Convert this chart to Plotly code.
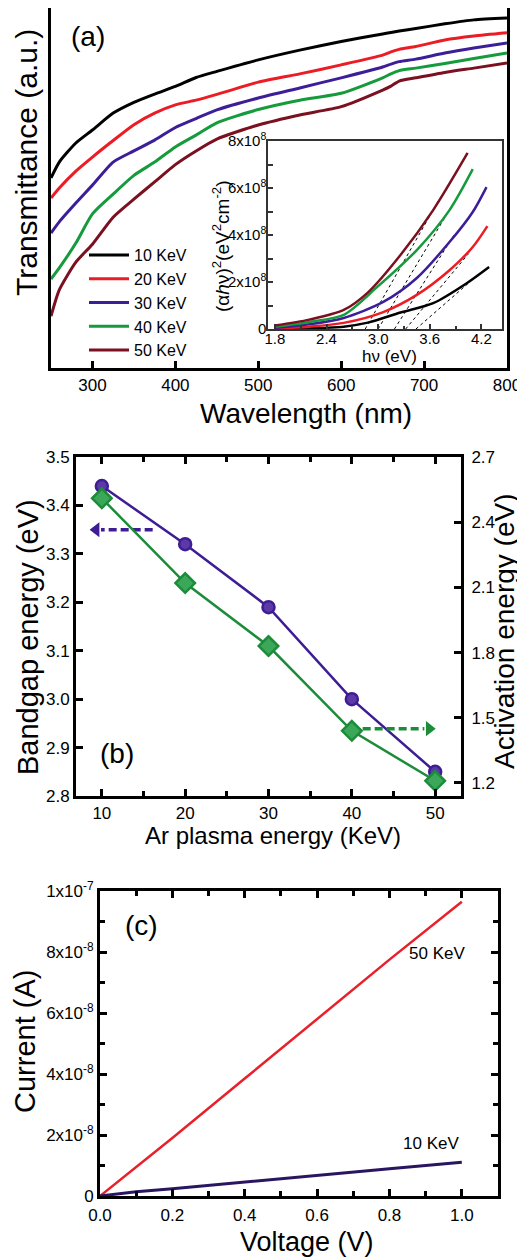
import plotly.graph_objects as go

# The page body has an 8 px margin, so the figure is sized to fill the rest of the 525x1258 window.
PAGE_OFFSET = 8
W, H = 525 - PAGE_OFFSET, 1258 - PAGE_OFFSET
FONT = "Liberation Sans, Arial, sans-serif"

# ---------------- Panel (a): transmittance ----------------
wavelength_nm = [250, 260, 280, 300, 325, 350, 375, 400, 425, 450, 500, 550, 600, 650, 660, 670, 690, 725, 760, 800]
T_10keV = [0.528, 0.572, 0.625, 0.661, 0.708, 0.738, 0.761, 0.782, 0.807, 0.824, 0.856, 0.883, 0.907, 0.928, 0.932, 0.936, 0.943, 0.956, 0.967, 0.972]
T_20keV = [0.472, 0.500, 0.547, 0.586, 0.632, 0.676, 0.708, 0.731, 0.744, 0.760, 0.794, 0.817, 0.842, 0.869, 0.878, 0.885, 0.893, 0.911, 0.922, 0.931]
T_30keV = [0.375, 0.406, 0.458, 0.508, 0.572, 0.603, 0.633, 0.668, 0.693, 0.717, 0.750, 0.778, 0.806, 0.836, 0.844, 0.851, 0.858, 0.875, 0.889, 0.903]
T_40keV = [0.247, 0.278, 0.347, 0.428, 0.483, 0.535, 0.572, 0.614, 0.647, 0.681, 0.718, 0.744, 0.763, 0.806, 0.817, 0.826, 0.833, 0.846, 0.860, 0.875]
T_50keV = [0.144, 0.217, 0.294, 0.344, 0.419, 0.469, 0.517, 0.565, 0.603, 0.636, 0.675, 0.703, 0.726, 0.772, 0.783, 0.797, 0.806, 0.821, 0.833, 0.847]
series_names = ["10 KeV", "20 KeV", "30 KeV", "40 KeV", "50 KeV"]
series_colors = ["#000000", "#ec1c24", "#3c1e98", "#159a3c", "#7a1020"]

# Inset: Tauc plot
hv_10 = [1.80, 2.20, 2.60, 2.88, 3.26, 3.64, 4.03, 4.29]
ahv2_10 = [0.0, 0.03e8, 0.10e8, 0.27e8, 0.70e8, 1.10e8, 1.95e8, 2.64e8]
hv_20 = [1.80, 2.20, 2.60, 3.06, 3.45, 3.83, 4.10, 4.27]
ahv2_20 = [0.02e8, 0.10e8, 0.26e8, 0.72e8, 1.45e8, 2.50e8, 3.49e8, 4.38e8]
hv_30 = [1.80, 2.20, 2.60, 3.06, 3.45, 3.83, 4.10, 4.26]
ahv2_30 = [0.05e8, 0.20e8, 0.47e8, 1.15e8, 2.17e8, 3.70e8, 4.98e8, 6.04e8]
hv_40 = [1.80, 2.20, 2.60, 2.99, 3.45, 3.83, 4.10]
ahv2_40 = [0.10e8, 0.30e8, 0.60e8, 1.79e8, 3.36e8, 5.06e8, 6.80e8]
hv_50 = [1.80, 2.20, 2.60, 2.88, 3.26, 3.64, 4.04]
ahv2_50 = [0.15e8, 0.40e8, 0.81e8, 1.55e8, 3.15e8, 5.06e8, 7.49e8]
# linear extrapolation (dotted) lines: intercept -> end point
fit_x0 = [3.44, 3.32, 3.19, 3.00, 2.85]
fit_x1 = [4.05, 4.05, 3.90, 3.85, 3.70]
fit_y1 = [1.95e8, 3.20e8, 4.10e8, 5.20e8, 5.45e8]

# ---------------- Panel (b) ----------------
plasma_kev = [10, 20, 30, 40, 50]
bandgap_ev = [3.44, 3.32, 3.19, 3.00, 2.85]
activation_ev = [2.51, 2.12, 1.83, 1.44, 1.21]
arrow_bg_x = [16.1, 8.6]     # tail, tip (left axis)
arrow_bg_y = 3.35
arrow_act_x = [41.3, 50.0]   # tail, tip (right axis)
arrow_act_y = 1.45

# ---------------- Panel (c) ----------------
voltage_10 = [0.0, 0.1, 0.2, 0.4, 0.6, 0.8, 1.0]
current_10 = [0.0, 0.14e-8, 0.24e-8, 0.45e-8, 0.67e-8, 0.89e-8, 1.11e-8]
voltage_50 = [0.0, 0.2, 0.4, 0.6, 0.8, 1.0]
current_50 = [0.0, 1.90e-8, 3.85e-8, 5.80e-8, 7.75e-8, 9.65e-8]


def dx(px):
    return (px - PAGE_OFFSET) / W


def dy(py):
    return 1 - (py - PAGE_OFFSET) / H


fig = go.Figure()

T_all = [T_10keV, T_20keV, T_30keV, T_40keV, T_50keV]
for name, col, T in zip(series_names, series_colors, T_all):
    fig.add_trace(go.Scatter(x=wavelength_nm, y=T, mode="lines", name=name,
                             line=dict(color=col, width=3, shape="spline", smoothing=0.6),
                             xaxis="x", yaxis="y"))

hv_all = [hv_10, hv_20, hv_30, hv_40, hv_50]
ahv_all = [ahv2_10, ahv2_20, ahv2_30, ahv2_40, ahv2_50]
for i in range(5):
    fig.add_trace(go.Scatter(x=[fit_x0[i], fit_x1[i]], y=[0, fit_y1[i]], mode="lines",
                             line=dict(color="black", width=1, dash="dot"), showlegend=False,
                             xaxis="x2", yaxis="y2"))
for col, xs, ys in zip(series_colors, hv_all, ahv_all):
    fig.add_trace(go.Scatter(x=xs, y=ys, mode="lines", showlegend=False,
                             line=dict(color=col, width=2.5, shape="spline", smoothing=0.8),
                             xaxis="x2", yaxis="y2"))

purple_b = "#3e1c93"
green_b = "#1c8c3a"
fig.add_trace(go.Scatter(x=plasma_kev, y=bandgap_ev, mode="lines+markers", showlegend=False,
                         line=dict(color=purple_b, width=2.5),
                         marker=dict(symbol="circle", size=12, color="#5b3aa8",
                                     line=dict(color=purple_b, width=2.5)),
                         xaxis="x3", yaxis="y3"))
fig.add_trace(go.Scatter(x=plasma_kev, y=activation_ev, mode="lines+markers", showlegend=False,
                         line=dict(color=green_b, width=2.5),
                         marker=dict(symbol="diamond", size=15, color="#3aa858",
                                     line=dict(color=green_b, width=2.5)),
                         xaxis="x3", yaxis="y4"))
# dashed arrows
head_len = 1.3
fig.add_trace(go.Scatter(x=[arrow_bg_x[0], arrow_bg_x[1] + head_len], y=[arrow_bg_y, arrow_bg_y],
                         mode="lines", line=dict(color=purple_b, width=3.5, dash="8px,4px"),
                         showlegend=False, xaxis="x3", yaxis="y3"))
fig.add_trace(go.Scatter(x=[arrow_bg_x[1] + head_len * 0.55], y=[arrow_bg_y], mode="markers",
                         marker=dict(symbol="triangle-left", size=13, color=purple_b),
                         showlegend=False, xaxis="x3", yaxis="y3"))
fig.add_trace(go.Scatter(x=[arrow_act_x[0], arrow_act_x[1] - head_len], y=[arrow_act_y, arrow_act_y],
                         mode="lines", line=dict(color=green_b, width=3.5, dash="8px,4px"),
                         showlegend=False, xaxis="x3", yaxis="y4"))
fig.add_trace(go.Scatter(x=[arrow_act_x[1] - head_len * 0.55], y=[arrow_act_y], mode="markers",
                         marker=dict(symbol="triangle-right", size=13, color=green_b),
                         showlegend=False, xaxis="x3", yaxis="y4"))

fig.add_trace(go.Scatter(x=voltage_50, y=current_50, mode="lines", showlegend=False,
                         line=dict(color="#e8202a", width=2.5), xaxis="x4", yaxis="y5"))
fig.add_trace(go.Scatter(x=voltage_10, y=current_10, mode="lines", showlegend=False,
                         line=dict(color="#2a1660", width=3), xaxis="x4", yaxis="y5"))

tf = dict(family=FONT, size=17, color="black")
common = dict(showgrid=False, zeroline=False, showline=True, linecolor="black", linewidth=3,
              ticks="inside", tickwidth=3, ticklen=7, tickcolor="black", tickfont=tf,
              automargin=False)

inset_common = dict(showgrid=False, zeroline=False, showline=True, linecolor="#333333", linewidth=1.5,
                    ticks="inside", tickwidth=1.5, ticklen=5, tickcolor="#333333",
                    tickfont=dict(family=FONT, size=15, color="black"), mirror=True,
                    automargin=False)

fig.update_layout(
    width=W, height=H, autosize=False,
    margin=dict(l=0, r=0, t=0, b=0, pad=0, autoexpand=False),
    paper_bgcolor="white", plot_bgcolor="rgba(0,0,0,0)",
    font=dict(family=FONT, color="black"),
    showlegend=True,
    legend=dict(x=dx(84), y=dy(238), xanchor="left", yanchor="top",
                font=dict(family=FONT, size=16, color="black"),
                bgcolor="rgba(0,0,0,0)", tracegroupgap=0, itemwidth=40),
    xaxis=dict(common, domain=[dx(51), dx(507)], range=[250, 800], anchor="y", mirror=True,
               tickvals=[300, 400, 500, 600, 700, 800], ticklabelstandoff=0),
    yaxis=dict(common, domain=[dy(368), dy(8)], range=[0, 1], anchor="x", mirror=True,
               ticks="", showticklabels=False),
    xaxis2=dict(inset_common, domain=[dx(268), dx(502)], range=[1.72, 4.44], anchor="y2",
                tickvals=[1.8, 2.4, 3.0, 3.6, 4.2], ticktext=["1.8", "2.4", "3.0", "3.6", "4.2"],
                ticklabelstandoff=-5,
                minor=dict(tick0=1.8, dtick=0.3, ticks="inside", ticklen=3, tickcolor="#333333")),
    yaxis2=dict(inset_common, domain=[dy(329), dy(141)], range=[0, 8e8], anchor="x2",
                tickvals=[0, 2e8, 4e8, 6e8, 8e8], ticklabelstandoff=-3,
                ticktext=["0", "2x10<sup>8</sup>", "4x10<sup>8</sup>", "6x10<sup>8</sup>", "8x10<sup>8</sup>"],
                minor=dict(dtick=1e8, ticks="inside", ticklen=5, tickcolor="#333333")),
    xaxis3=dict(common, domain=[dx(76), dx(461)], range=[6.9, 53.1], anchor="y3", mirror="ticks",
                tickvals=[10, 20, 30, 40, 50],
                minor=dict(tick0=5, dtick=5, ticks="inside", ticklen=5, tickwidth=3, tickcolor="black")),
    yaxis3=dict(common, domain=[dy(796), dy(457)], range=[2.8, 3.5], anchor="x3",
                tickvals=[2.8, 2.9, 3.0, 3.1, 3.2, 3.3, 3.4, 3.5],
                ticktext=["2.8", "2.9", "3.0", "3.1", "3.2", "3.3", "3.4", "3.5"]),
    yaxis4=dict(common, overlaying="y3", side="right", range=[1.14, 2.7], anchor="x3",
                tickvals=[1.2, 1.5, 1.8, 2.1, 2.4, 2.7],
                ticktext=["1.2", "1.5", "1.8", "2.1", "2.4", "2.7"], ticklabelstandoff=4),
    xaxis4=dict(common, domain=[dx(100), dx(498)], range=[0, 1.1], anchor="y5", mirror="ticks",
                tickvals=[0, 0.2, 0.4, 0.6, 0.8, 1.0], ticktext=["0.0", "0.2", "0.4", "0.6", "0.8", "1.0"],
                minor=dict(tick0=0, dtick=0.1, ticks="inside", ticklen=5, tickwidth=3, tickcolor="black"),
                ticklabelstandoff=2),
    yaxis5=dict(common, domain=[dy(1196), dy(891)], range=[0, 1e-7], anchor="x4", mirror="ticks",
                tickvals=[0, 2e-8, 4e-8, 6e-8, 8e-8, 1e-7],
                ticktext=["0", "2x10<sup>-8</sup>", "4x10<sup>-8</sup>", "6x10<sup>-8</sup>",
                          "8x10<sup>-8</sup>", "1x10<sup>-7</sup>"],
                minor=dict(dtick=1e-8, ticks="inside", ticklen=5, tickwidth=3, tickcolor="black")),
)


def ann(text, px, py, size, angle=0):
    fig.add_annotation(text=text, x=dx(px), y=dy(py), xref="paper", yref="paper",
                       showarrow=False, textangle=angle, xanchor="center", yanchor="middle",
                       borderpad=0, font=dict(family=FONT, size=size, color="black"))


ann("(a)", 88, 37, 28)
ann("Transmittance (a.u.)", 26, 163, 30, -90)
ann("Wavelength (nm)", 306, 413, 28)
ann("(α<i>h</i>ν)<sup>2</sup>(eV<sup>2</sup>cm<sup>-2</sup>)", 221, 246, 19, -90)
ann("hν (eV)", 389, 356, 17)
ann("(b)", 117, 753, 28)
ann("Bandgap energy (eV)", 28, 637, 29, -90)
ann("Activation energy (eV)", 504, 632, 28, -90)
ann("Ar plasma energy (KeV)", 273, 835, 24)
ann("(c)", 141, 925, 28)
ann("Current (A)", 25, 1042, 29, -90)
ann("Voltage (V)", 307, 1242, 27)
ann("50 KeV", 437, 953, 17)
ann("10 KeV", 431, 1143, 17)

fig.write_html("out.html")
